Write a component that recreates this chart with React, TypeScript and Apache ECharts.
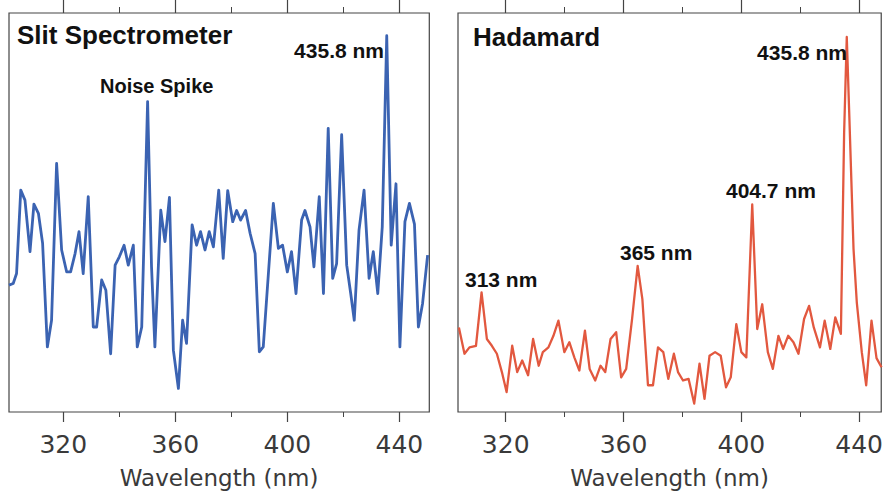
import React, { useEffect, useRef } from "react";
import * as echarts from "echarts";

// ---- Data ----
const slitWavelength = [
  300.6, 302.1, 303.3, 304.8, 306.3, 308.1, 309.5, 311.1, 312.6, 314.3, 315.8, 317.6, 319.4,
  321.2, 322.6, 324.2, 325.6, 327.1, 328.9, 330.7, 331.9, 333.7, 335.2, 336.9, 338.5, 340.0,
  341.7, 343.2, 345.0, 346.4, 348.0, 350.1, 351.5, 352.7, 354.8, 356.3, 357.9, 359.3, 361.1,
  362.6, 364.0, 366.0, 367.6, 369.0, 370.6, 372.1, 373.6, 375.5, 377.1, 378.7, 380.5, 381.9,
  383.3, 385.1, 386.7, 388.5, 390.0, 391.4, 395.0, 396.8, 398.3, 400.0, 401.5, 403.1, 405.1,
  406.3, 408.1, 409.5, 411.4, 412.9, 414.6, 416.2, 417.6, 419.4, 421.2, 422.6, 423.9, 425.6,
  427.4, 429.2, 430.7, 432.3, 433.9, 435.5, 437.1, 438.8, 440.2, 442.0, 443.6, 445.4, 446.8,
  448.3, 450.1,
];
const slitIntensity = [
  31.8, 32.2, 34.7, 55.6, 53.1, 40.2, 52.1, 49.8, 42.3, 16.3, 23.0, 62.3, 40.6,
  35.1, 35.1, 39.7, 45.2, 34.7, 54.0, 21.3, 21.3, 33.1, 30.5, 14.6, 36.8, 38.9,
  41.8, 36.8, 41.8, 16.3, 21.3, 77.8, 36.4, 16.3, 50.6, 42.7, 53.8, 15.5, 5.9,
  23.0, 17.2, 46.9, 41.8, 45.2, 40.6, 45.2, 41.4, 55.6, 38.5, 55.5, 47.7, 50.5,
  48.1, 50.5, 44.8, 39.7, 15.1, 16.3, 52.3, 41.0, 41.8, 35.1, 40.2, 29.7, 48.1,
  50.5, 46.4, 36.4, 54.0, 29.7, 71.1, 33.5, 37.2, 69.5, 36.8, 29.9, 23.0, 45.6,
  55.6, 33.5, 40.2, 29.7, 46.4, 94.3, 41.8, 57.2, 16.3, 47.7, 52.3, 47.1, 21.3,
  27.2, 39.3,
];

const hadamardWavelength = [
  304.1, 306.0, 307.7, 309.9, 311.8, 313.6, 315.3, 317.0, 318.7, 320.3, 322.2, 323.9, 325.6,
  327.6, 329.3, 331.2, 332.6, 334.5, 336.2, 337.9, 339.9, 341.6, 343.3, 345.0, 346.9, 348.5,
  350.4, 352.2, 353.8, 355.6, 357.5, 359.2, 360.9, 362.9, 364.8, 366.4, 368.3, 370.0, 371.7,
  373.5, 375.2, 377.1, 378.5, 380.2, 382.1, 384.0, 385.8, 387.5, 389.2, 391.1, 393.0, 394.8,
  396.4, 398.3, 400.0, 401.7, 403.7, 405.4, 407.1, 409.0, 410.7, 412.6, 414.2, 415.9, 417.7,
  419.4, 421.3, 423.0, 424.6, 426.7, 428.3, 430.2, 431.9, 433.8, 434.9, 435.8, 436.6, 438.1,
  439.2, 440.9, 442.4, 444.2, 445.9, 447.6,
];
const hadamardIntensity = [
  21.2, 14.6, 16.2, 16.6, 30.0, 18.3, 16.6, 14.6, 10.0, 5.0, 16.6, 10.0, 12.9,
  9.2, 18.3, 11.6, 15.0, 16.2, 19.1, 22.9, 15.0, 17.5, 13.7, 10.4, 20.4, 10.8,
  7.9, 11.6, 10.0, 18.3, 20.0, 8.7, 10.8, 23.3, 36.6, 28.3, 6.7, 6.7, 16.2,
  15.0, 8.3, 14.6, 10.0, 7.9, 8.3, 2.1, 12.1, 3.3, 14.1, 15.0, 14.1, 6.2,
  8.7, 22.0, 15.0, 13.7, 52.0, 20.8, 27.0, 15.0, 10.8, 19.1, 15.8, 19.1, 17.5,
  14.6, 23.3, 26.6, 21.2, 16.2, 22.9, 15.8, 23.7, 19.6, 69.9, 94.0, 75.7, 40.8,
  27.5, 15.0, 6.7, 22.9, 13.5, 11.2,
];

const majorTicks = [320, 360, 400, 440];
const minorTicks = [340, 380, 420];

const panelTitles = ["Slit Spectrometer", "Hadamard"];
const slitNotes = ["Noise Spike", "435.8 nm"];
const hadamardNotes = ["313 nm", "365 nm", "404.7 nm", "435.8 nm"];
const axisTitle = "Wavelength (nm)";

// ---- Styling ----
const BLUE = "#3b63b2";
const RED = "#e2583f";
const AXIS_COLOR = "#444";
const LABEL_COLOR = "#3a3a3a";
const LABEL_FONT = "'DejaVu Sans', Verdana, sans-serif";
const NOTE_FONT = "'Liberation Sans', Arial, Helvetica, sans-serif";

function axesFor(gridIndex: number, min: number, max: number) {
  const base = {
    type: "value" as const,
    gridIndex,
    min,
    max,
    splitLine: { show: false },
    axisLine: { show: false, onZero: false },
  };
  return [
    {
      ...base,
      position: "bottom",
      name: axisTitle,
      nameLocation: "middle",
      nameGap: 54,
      nameTextStyle: {
        fontFamily: LABEL_FONT,
        fontSize: 23,
        fontWeight: "normal",
        color: LABEL_COLOR,
      },
      axisTick: {
        show: true,
        customValues: majorTicks,
        length: 10,
        lineStyle: { color: AXIS_COLOR, width: 1.2 },
      },
      axisLabel: {
        show: true,
        customValues: majorTicks,
        margin: 20,
        fontFamily: LABEL_FONT,
        fontSize: 25,
        fontWeight: "normal",
        color: LABEL_COLOR,
      },
    },
    {
      ...base,
      position: "bottom",
      axisTick: {
        show: true,
        customValues: minorTicks,
        length: 5,
        lineStyle: { color: AXIS_COLOR, width: 1 },
      },
      axisLabel: { show: false },
    },
    {
      ...base,
      position: "top",
      axisTick: {
        show: true,
        customValues: majorTicks,
        length: 13,
        lineStyle: { color: AXIS_COLOR, width: 1.2 },
      },
      axisLabel: { show: false },
    },
    {
      ...base,
      position: "top",
      axisTick: {
        show: true,
        customValues: minorTicks,
        length: 6,
        lineStyle: { color: AXIS_COLOR, width: 1 },
      },
      axisLabel: { show: false },
    },
  ];
}

function note(text: string, x: number, y: number, size: number, align: string = "left") {
  return {
    type: "text",
    x,
    y,
    z: 10,
    style: {
      text,
      fill: "#111",
      font: `bold ${size}px ${NOTE_FONT}`,
      align,
      verticalAlign: "middle",
    },
  };
}

export default function App() {
  const ref = useRef<HTMLDivElement>(null);

  useEffect(() => {
    if (!ref.current) return;
    const chart = echarts.init(ref.current, null, { renderer: "svg" });

    const slitData = slitWavelength.map((w, i) => [w, slitIntensity[i]]);
    const hadData = hadamardWavelength.map((w, i) => [w, hadamardIntensity[i]]);

    const option = {
      animation: false,
      backgroundColor: "#fff",
      grid: [
        {
          left: 9,
          right: 456.7,
          top: 13,
          bottom: 82,
          show: true,
          borderColor: AXIS_COLOR,
          borderWidth: 1.2,
          backgroundColor: "transparent",
        },
        {
          left: 458,
          right: 0,
          top: 13,
          bottom: 81,
          show: true,
          borderColor: AXIS_COLOR,
          borderWidth: 1.2,
          backgroundColor: "transparent",
        },
      ],
      xAxis: [...axesFor(0, 300.6, 450.7), ...axesFor(1, 303.8, 447.5)],
      yAxis: [
        { type: "value", gridIndex: 0, min: 0, max: 100, show: false },
        { type: "value", gridIndex: 1, min: 0, max: 100, show: false },
      ],
      series: [
        {
          type: "line",
          xAxisIndex: 0,
          yAxisIndex: 0,
          data: slitData,
          showSymbol: false,
          lineStyle: { color: BLUE, width: 2.8, join: "round" },
        },
        {
          type: "line",
          xAxisIndex: 4,
          yAxisIndex: 1,
          data: hadData,
          showSymbol: false,
          lineStyle: { color: RED, width: 2.3, join: "round" },
        },
      ],
      graphic: [
        note(panelTitles[0], 17, 35, 26),
        note(slitNotes[0], 100, 86, 20),
        note(slitNotes[1], 384, 50, 21, "right"),
        note(panelTitles[1], 473, 37, 26),
        note(hadamardNotes[0], 465, 279, 21),
        note(hadamardNotes[1], 620, 252, 21),
        note(hadamardNotes[2], 726, 190, 21),
        note(hadamardNotes[3], 847, 52, 21, "right"),
      ],
    };

    chart.setOption(option as any);
    return () => chart.dispose();
  }, []);

  return (
    <div
      ref={ref}
      style={{ position: "fixed", left: 0, top: 0, width: 886, height: 494, overflow: "hidden" }}
    />
  );
}
